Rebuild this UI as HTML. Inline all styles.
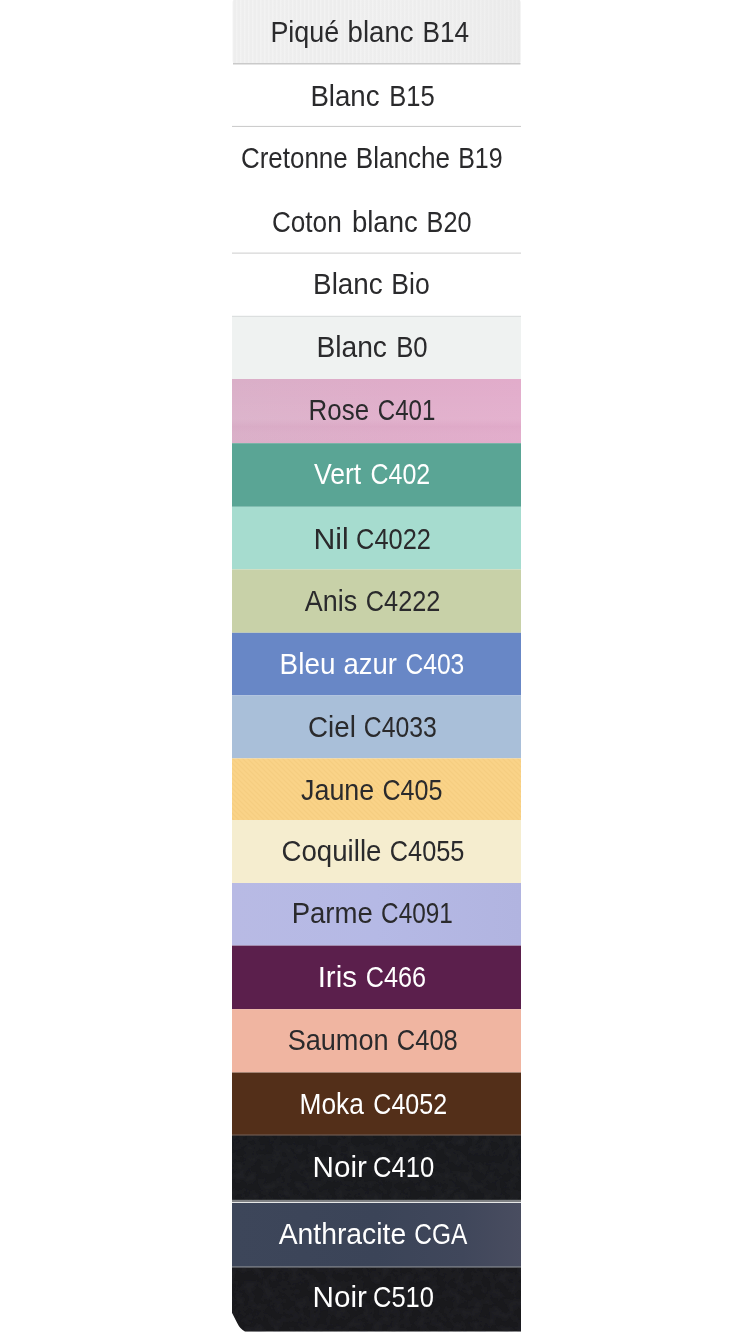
<!DOCTYPE html>
<html lang="fr">
<head>
<meta charset="utf-8">
<title>Nuancier</title>
<style>
html,body{margin:0;padding:0;background:#fff;}
body{width:750px;height:1333px;overflow:hidden;}
svg{display:block;}
text{font-family:"Liberation Sans",sans-serif;font-size:30px;}
.d{fill:#2a2a2c;}
.w{fill:#ffffff;}
</style>
</head>
<body>
<svg width="750" height="1333" viewBox="0 0 750 1333">
<rect x="0" y="0" width="750" height="1333" fill="#ffffff"/>
<defs>
<pattern id="pique" x="232" y="0" width="4" height="64" patternUnits="userSpaceOnUse">
<rect x="0" y="0" width="4" height="64" fill="#ececec"/>
<rect x="0" y="0" width="1.5" height="64" fill="#f1f1f1"/>
</pattern>
<linearGradient id="gpique" x1="0" y1="0" x2="1" y2="0">
<stop offset="0" stop-color="#ffffff" stop-opacity="0.12"/>
<stop offset="0.35" stop-color="#ffffff" stop-opacity="0.06"/>
<stop offset="1" stop-color="#e6e6e6" stop-opacity="0.30"/>
</linearGradient>
<linearGradient id="grose" x1="0" y1="0" x2="1" y2="0">
<stop offset="0" stop-color="#daafc8"/>
<stop offset="0.55" stop-color="#dfacc9"/>
<stop offset="1" stop-color="#e2accb"/>
</linearGradient>
<linearGradient id="grose2" x1="0" y1="0" x2="0" y2="1">
<stop offset="0" stop-color="#ffffff" stop-opacity="0"/>
<stop offset="0.62" stop-color="#ffffff" stop-opacity="0.07"/>
<stop offset="0.74" stop-color="#c890b0" stop-opacity="0.08"/>
<stop offset="1" stop-color="#ffffff" stop-opacity="0"/>
</linearGradient>
<linearGradient id="gparme" x1="0" y1="0" x2="1" y2="0">
<stop offset="0" stop-color="#b8bae4"/>
<stop offset="0.5" stop-color="#b5b9e5"/>
<stop offset="1" stop-color="#b1b4e0"/>
</linearGradient>
<linearGradient id="ganth" x1="0" y1="0" x2="1" y2="0">
<stop offset="0" stop-color="#3d465a"/>
<stop offset="0.5" stop-color="#3b4458"/>
<stop offset="0.8" stop-color="#40475b"/>
<stop offset="1" stop-color="#494d60"/>
</linearGradient>
<pattern id="twill" x="232" y="758" width="5" height="5" patternUnits="userSpaceOnUse">
<rect width="5" height="5" fill="#fad388"/>
<path d="M-1 -1 L6 6 M-1 4 L1 6 M4 -1 L6 1" stroke="#f6cd80" stroke-width="1.2" fill="none"/>
</pattern>
<filter id="noise" x="0" y="0" width="100%" height="100%">
<feTurbulence type="fractalNoise" baseFrequency="0.11" numOctaves="3" seed="7" result="n"/>
<feColorMatrix type="matrix" values="0 0 0 0 0.03  0 0 0 0 0.03  0 0 0 0 0.04  0.7 0 0 0 -0.27"/>
<feComposite in2="SourceAlpha" operator="in"/>
</filter>
</defs>
<g id="bands">
<rect x="232.6" y="-0.6" width="288" height="64.6" rx="3" fill="url(#pique)"/>
<rect x="232.6" y="-0.6" width="288" height="64.6" rx="3" fill="url(#gpique)"/>
<rect x="232" y="63.5" width="289" height="63.0" fill="#ffffff"/>
<rect x="232" y="126.5" width="289" height="63.5" fill="#ffffff"/>
<rect x="232" y="190" width="289" height="63" fill="#ffffff"/>
<rect x="232" y="253" width="289" height="63" fill="#ffffff"/>
<rect x="232" y="316" width="289" height="63" fill="#eff2f1"/>
<rect x="232" y="379" width="289" height="64.2" fill="url(#grose)"/>
<rect x="232" y="379" width="289" height="64.2" fill="url(#grose2)"/>
<rect x="232" y="443.2" width="289" height="63.6" fill="#5aa595"/>
<rect x="232" y="506.8" width="289" height="62.6" fill="#a6dccf"/>
<rect x="232" y="569.4" width="289" height="63.4" fill="#c8d1a8"/>
<rect x="232" y="632.8" width="289" height="62.6" fill="#6887c6"/>
<rect x="232" y="695.4" width="289" height="63.0" fill="#a9bfd9"/>
<rect x="232" y="758.4" width="289" height="61.6" fill="url(#twill)"/>
<rect x="232" y="820" width="289" height="63" fill="#f5edcf"/>
<rect x="232" y="883" width="289" height="62.6" fill="url(#gparme)"/>
<rect x="232" y="945.6" width="289" height="63.6" fill="#5b1f4c"/>
<rect x="232" y="1009.2" width="289" height="63.3" fill="#f0b5a1"/>
<rect x="232" y="1072.5" width="289" height="62.5" fill="#532f19"/>
<rect x="232" y="1135" width="289" height="65" fill="#191a1d"/>
<rect x="232" y="1135" width="289" height="65" fill="#0b0b0e" filter="url(#noise)"/>
<rect x="232" y="1203" width="289" height="63.3" fill="url(#ganth)"/>
<path d="M232 1267.3 H521 V1331.5 H245 Q240 1329 237.2 1323 L232 1312.7 Z" fill="#19191c"/>
<path d="M232 1267.3 H521 V1331.5 H245 Q240 1329 237.2 1323 L232 1312.7 Z" fill="#0b0b0e" filter="url(#noise)"/>
</g>
<g id="lines">
<rect x="232" y="63" width="287.5" height="1.5" fill="#cacaca" transform="translate(1,0)"/>
<rect x="232" y="125.9" width="289" height="1.1" fill="#cdcdcd"/>
<rect x="232" y="252.6" width="289" height="1" fill="#cccccc"/>
<rect x="232" y="315.8" width="289" height="1" fill="#d8dada"/>
<rect x="232" y="1199.8" width="289" height="2.4" fill="#7f8184"/>
<rect x="232" y="1266" width="289" height="1.3" fill="#6c717c"/>
<rect x="232" y="1134.4" width="289" height="1.2" fill="#6e5a50"/>
</g>
<g id="labels">
<text class="d" y="41.8" xml:space="preserve"><tspan x="270.42" textLength="68.83" lengthAdjust="spacingAndGlyphs">Piqué</tspan> <tspan x="347.62" textLength="66.04" lengthAdjust="spacingAndGlyphs">blanc</tspan> <tspan x="422.46" textLength="46.6" lengthAdjust="spacingAndGlyphs">B14</tspan></text>
<text class="d" y="105.7" xml:space="preserve"><tspan x="310.38" textLength="69.17" lengthAdjust="spacingAndGlyphs">Blanc</tspan> <tspan x="389.24" textLength="45.48" lengthAdjust="spacingAndGlyphs">B15</tspan></text>
<text class="d" y="167.9" xml:space="preserve"><tspan x="240.94" textLength="106.82" lengthAdjust="spacingAndGlyphs">Cretonne</tspan> <tspan x="355.74" textLength="94.3" lengthAdjust="spacingAndGlyphs">Blanche</tspan> <tspan x="458.21" textLength="44.4" lengthAdjust="spacingAndGlyphs">B19</tspan></text>
<text class="d" y="231.7" xml:space="preserve"><tspan x="271.93" textLength="69.75" lengthAdjust="spacingAndGlyphs">Coton</tspan> <tspan x="351.94" textLength="65.82" lengthAdjust="spacingAndGlyphs">blanc</tspan> <tspan x="426.61" textLength="44.79" lengthAdjust="spacingAndGlyphs">B20</tspan></text>
<text class="d" y="294.0" xml:space="preserve"><tspan x="313.07" textLength="69.66" lengthAdjust="spacingAndGlyphs">Blanc</tspan> <tspan x="391.3" textLength="38.36" lengthAdjust="spacingAndGlyphs">Bio</tspan></text>
<text class="d" y="357.3" xml:space="preserve"><tspan x="316.41" textLength="70.54" lengthAdjust="spacingAndGlyphs">Blanc</tspan> <tspan x="396.19" textLength="31.44" lengthAdjust="spacingAndGlyphs">B0</tspan></text>
<text class="d" y="420.4" xml:space="preserve"><tspan x="308.6" textLength="60.5" lengthAdjust="spacingAndGlyphs">Rose</tspan> <tspan x="377.77" textLength="57.58" lengthAdjust="spacingAndGlyphs">C401</tspan></text>
<text class="w" y="484.4" xml:space="preserve"><tspan x="313.97" textLength="47.3" lengthAdjust="spacingAndGlyphs">Vert</tspan> <tspan x="370.55" textLength="59.72" lengthAdjust="spacingAndGlyphs">C402</tspan></text>
<text class="d" y="548.6" xml:space="preserve"><tspan x="313.42" textLength="35.22" lengthAdjust="spacingAndGlyphs">Nil</tspan> <tspan x="356.08" textLength="74.81" lengthAdjust="spacingAndGlyphs">C4022</tspan></text>
<text class="d" y="611.1" xml:space="preserve"><tspan x="304.82" textLength="52.32" lengthAdjust="spacingAndGlyphs">Anis</tspan> <tspan x="365.86" textLength="74.52" lengthAdjust="spacingAndGlyphs">C4222</tspan></text>
<text class="w" y="674.4" xml:space="preserve"><tspan x="279.61" textLength="55.77" lengthAdjust="spacingAndGlyphs">Bleu</tspan> <tspan x="343.4" textLength="53.5" lengthAdjust="spacingAndGlyphs">azur</tspan> <tspan x="405.45" textLength="58.88" lengthAdjust="spacingAndGlyphs">C403</tspan></text>
<text class="d" y="736.7" xml:space="preserve"><tspan x="308.02" textLength="47.81" lengthAdjust="spacingAndGlyphs">Ciel</tspan> <tspan x="363.74" textLength="73.01" lengthAdjust="spacingAndGlyphs">C4033</tspan></text>
<text class="d" y="800.0" xml:space="preserve"><tspan x="301.06" textLength="73.21" lengthAdjust="spacingAndGlyphs">Jaune</tspan> <tspan x="382.52" textLength="59.92" lengthAdjust="spacingAndGlyphs">C405</tspan></text>
<text class="d" y="860.5" xml:space="preserve"><tspan x="281.54" textLength="99.88" lengthAdjust="spacingAndGlyphs">Coquille</tspan> <tspan x="389.85" textLength="74.59" lengthAdjust="spacingAndGlyphs">C4055</tspan></text>
<text class="d" y="923.4" xml:space="preserve"><tspan x="291.67" textLength="81.19" lengthAdjust="spacingAndGlyphs">Parme</tspan> <tspan x="381.09" textLength="71.74" lengthAdjust="spacingAndGlyphs">C4091</tspan></text>
<text class="w" y="987.4" xml:space="preserve"><tspan x="317.63" textLength="39.33" lengthAdjust="spacingAndGlyphs">Iris</tspan> <tspan x="365.75" textLength="60.31" lengthAdjust="spacingAndGlyphs">C466</tspan></text>
<text class="d" y="1050.2" xml:space="preserve"><tspan x="287.65" textLength="100.92" lengthAdjust="spacingAndGlyphs">Saumon</tspan> <tspan x="396.81" textLength="61.01" lengthAdjust="spacingAndGlyphs">C408</tspan></text>
<text class="w" y="1114.0" xml:space="preserve"><tspan x="299.58" textLength="64.3" lengthAdjust="spacingAndGlyphs">Moka</tspan> <tspan x="373.37" textLength="73.72" lengthAdjust="spacingAndGlyphs">C4052</tspan></text>
<text class="w" y="1177.1" xml:space="preserve"><tspan x="312.53" textLength="54.38" lengthAdjust="spacingAndGlyphs">Noir</tspan> <tspan x="372.96" textLength="61.36" lengthAdjust="spacingAndGlyphs">C410</tspan></text>
<text class="w" y="1244.4" xml:space="preserve"><tspan x="278.65" textLength="127.49" lengthAdjust="spacingAndGlyphs">Anthracite</tspan> <tspan x="414.24" textLength="53.06" lengthAdjust="spacingAndGlyphs">CGA</tspan></text>
<text class="w" y="1307.4" xml:space="preserve"><tspan x="312.58" textLength="54.37" lengthAdjust="spacingAndGlyphs">Noir</tspan> <tspan x="372.99" textLength="60.95" lengthAdjust="spacingAndGlyphs">C510</tspan></text>
</g>
</svg>
</body>
</html>
